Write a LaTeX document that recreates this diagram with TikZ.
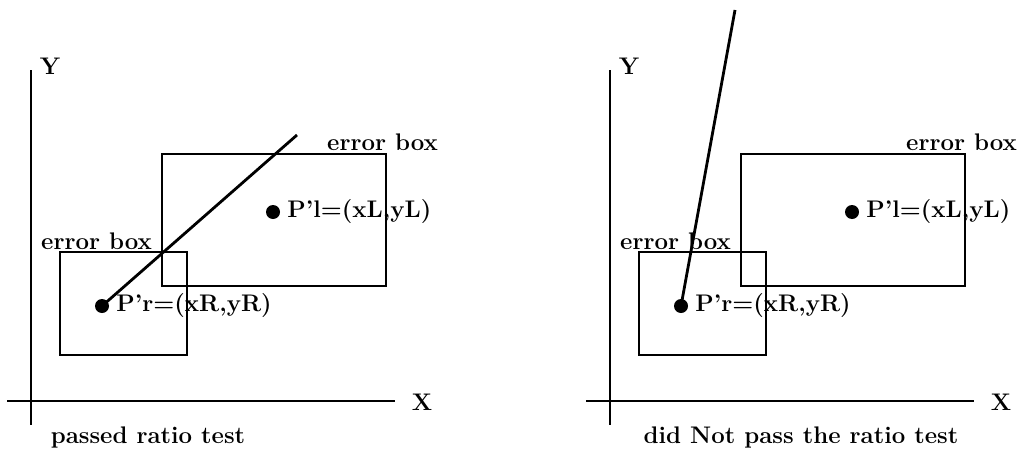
\documentclass[tikz,border=0pt]{standalone}
\usepackage{fontspec}
\usetikzlibrary{positioning}
\tikzset{
  % axes, boxes and rays
  axisline/.style={line width=2.8pt},
  errorbox/.style={line width=2.5pt},
  raybeam/.style={line width=2.8pt},
  % points and labels
  ptdot/.style={circle, fill=black, inner sep=0pt, minimum size=14pt},
  lbl/.style={font=\fontsize{24}{28}\selectfont\bfseries, inner sep=0pt},
}
\begin{document}
\begin{tikzpicture}[x=1pt, y=-1pt]
\useasboundingbox (0,0) rectangle (1019,455);

% the two panels share axes, boxes and points
\foreach \off/\p in {0/a, 579/b} {
  \begin{scope}[xshift=\off pt]
    \draw[axisline] (31,70) -- (31,425);
    \draw[axisline] (7,401) -- (395,401);
    \node[lbl] (ylab\p) at (50,66) {Y};
    \node[lbl] (xlab\p) at (422,402) {X};

    \draw[errorbox] (162,154) rectangle (386,286);
    \draw[errorbox] (60,252) rectangle (187,355);
    \node[lbl, anchor=base west] (eboxl\p) at (327,150) {error box};
    \node[lbl, anchor=base west] (eboxr\p) at (41,249) {error box};

    \node[ptdot] (pl\p) at (273,212) {};
    \node[ptdot] (pr\p) at (102,306) {};
    \node[lbl, right=7pt of pl\p] (pllab\p) {P'l=(xL,yL)};
    \node[lbl, right=7pt of pr\p] (prlab\p) {P'r=(xR,yR)};
  \end{scope}
}

% rays
\coordinate (enda) at (297,135);
\coordinate (endb) at (735,10);
\draw[raybeam] (pra.center) -- (enda);
\draw[raybeam] (prb.center) -- (endb);

% captions
\node[lbl] (capa) at (148,437) {passed ratio test};
\node[lbl] (capb) at (801,437) {did Not pass the ratio test};

\end{tikzpicture}
\end{document}
